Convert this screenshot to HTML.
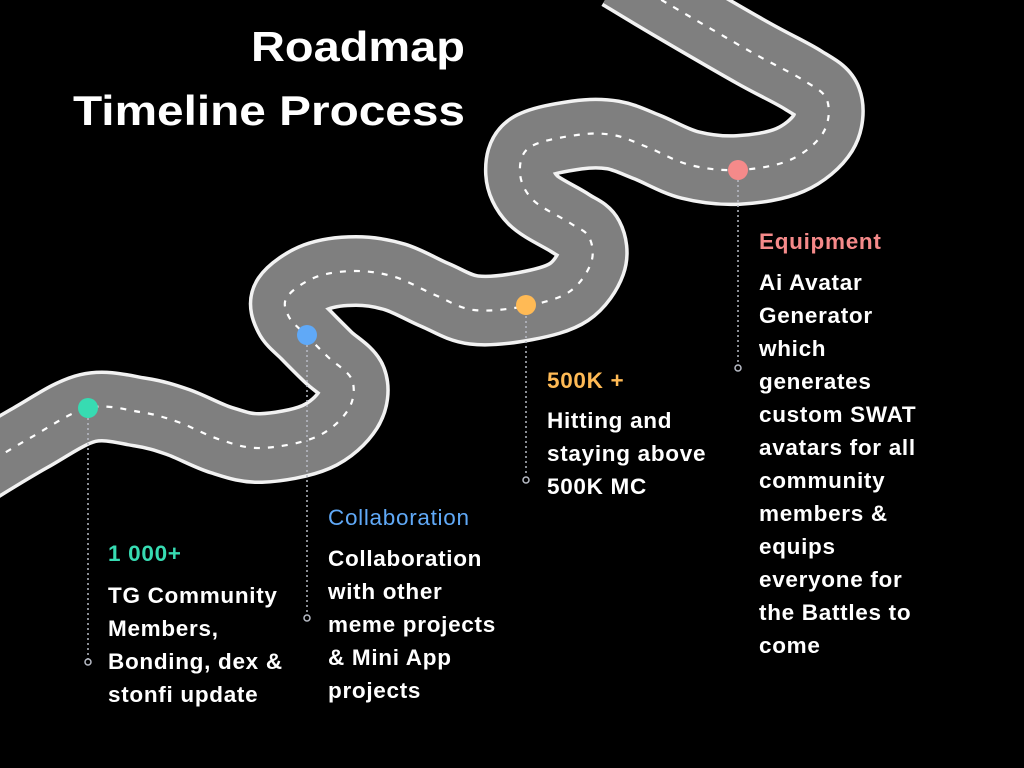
<!DOCTYPE html>
<html><head><meta charset="utf-8"><style>
html,body{margin:0;padding:0;background:#000;}
svg{display:block;}
text{font-family:"Liberation Sans",sans-serif;font-weight:bold;}
</style></head><body>
<svg width="1024" height="768" viewBox="0 0 1024 768" xmlns="http://www.w3.org/2000/svg">
<rect width="1024" height="768" fill="#000"/>
<defs>
<path id="road" d="M -30 474 C -20 468, 10.3 449, 30 438 C 49.7 427, 69.7 412.3, 88 408 C 106.3 403.7, 125 409.7, 140 412 C 155 414.3, 164.5 417.3, 178 422 C 191.5 426.7, 207.2 435.7, 221 440 C 234.8 444.3, 245.2 448.5, 261 448 C 276.8 447.5, 301.5 443.3, 316 437 C 330.5 430.7, 342 419.5, 348 410 C 354 400.5, 355.3 388.8, 352 380 C 348.7 371.2, 335.7 364.5, 328 357 C 320.3 349.5, 312.5 341.7, 306 335 C 299.5 328.3, 292.2 323.3, 289 317 C 285.8 310.7, 282.5 303.7, 287 297 C 291.5 290.3, 304.5 281.3, 316 277 C 327.5 272.7, 342.8 271, 356 271 C 369.2 271, 381.8 273, 395 277 C 408.2 281, 421.8 289.5, 435 295 C 448.2 300.5, 458.8 308.2, 474 310 C 489.2 311.8, 510.2 309, 526 306 C 541.8 303, 558.2 299.2, 569 292 C 579.8 284.8, 587.7 272.2, 591 263 C 594.3 253.8, 592.5 243.7, 589 237 C 585.5 230.3, 579.3 229.2, 570 223 C 560.7 216.8, 541.3 208.3, 533 200 C 524.7 191.7, 520.5 181.8, 520 173 C 519.5 164.2, 520.5 153.3, 530 147 C 539.5 140.7, 563.2 137, 577 135 C 590.8 133, 601.3 133, 613 135 C 624.7 137, 634.2 142, 647 147 C 659.8 152, 674.8 161.2, 690 165 C 705.2 168.8, 721.3 170.8, 738 170 C 754.7 169.2, 775.8 166.2, 790 160 C 804.2 153.8, 816.8 143, 823 133 C 829.2 123, 830.3 108.8, 827 100 C 823.7 91.2, 815.3 87.8, 803 80 C 790.7 72.2, 775.2 65.5, 753 53 C 730.8 40.5, 692.2 18, 670 5 C 647.8 -8, 628.3 -20, 620 -25" fill="none"/>
</defs>
<use href="#road" stroke="#f2f2f2" stroke-width="72" stroke-linejoin="round" fill="none"/>
<use href="#road" stroke="#7f7f7f" stroke-width="65" stroke-linejoin="round" fill="none"/>
<use href="#road" stroke="#ffffff" stroke-width="2.2" stroke-dasharray="6 8" fill="none"/>

<g stroke="#b8bcc6" stroke-width="1.5" stroke-dasharray="2 3" fill="none">
<line x1="88" y1="418" x2="88" y2="659"/>
<line x1="307" y1="345" x2="307" y2="615"/>
<line x1="526" y1="316" x2="526" y2="476"/>
<line x1="738" y1="180" x2="738" y2="365"/>
</g>
<g stroke="#b8bcc6" stroke-width="1.5" fill="#000">
<circle cx="88" cy="662" r="3"/>
<circle cx="307" cy="618" r="3"/>
<circle cx="526" cy="480" r="3"/>
<circle cx="738" cy="368" r="3"/>
</g>
<circle cx="88" cy="408" r="10" fill="#37dbb2"/>
<circle cx="307" cy="335" r="10" fill="#60a9f7"/>
<circle cx="526" cy="305" r="10" fill="#ffba55"/>
<circle cx="738" cy="170" r="10" fill="#f58a8a"/>

<text x="465" y="61" font-size="42" fill="#fff" text-anchor="end" textLength="214" lengthAdjust="spacingAndGlyphs">Roadmap</text>
<text x="73" y="125" font-size="42" fill="#fff" textLength="392" lengthAdjust="spacingAndGlyphs">Timeline Process</text>

<g font-size="22.5" fill="#fff" letter-spacing="0.7">
<text x="108" y="561" fill="#37dbb2">1 000+</text>
<text x="108" y="603">TG Community</text>
<text x="108" y="636">Members,</text>
<text x="108" y="669">Bonding, dex &amp;</text>
<text x="108" y="702">stonfi update</text>

<text x="328" y="525" fill="#60a9f7" style="font-weight:normal">Collaboration</text>
<text x="328" y="566">Collaboration</text>
<text x="328" y="599">with other</text>
<text x="328" y="632">meme projects</text>
<text x="328" y="665">&amp; Mini App</text>
<text x="328" y="698">projects</text>

<text x="547" y="388" fill="#ffba55">500K +</text>
<text x="547" y="428">Hitting and</text>
<text x="547" y="461">staying above</text>
<text x="547" y="494">500K MC</text>

<text x="759" y="249" fill="#f58a8a">Equipment</text>
<text x="759" y="290">Ai Avatar</text>
<text x="759" y="323">Generator</text>
<text x="759" y="356">which</text>
<text x="759" y="389">generates</text>
<text x="759" y="422">custom SWAT</text>
<text x="759" y="455">avatars for all</text>
<text x="759" y="488">community</text>
<text x="759" y="521">members &amp;</text>
<text x="759" y="554">equips</text>
<text x="759" y="587">everyone for</text>
<text x="759" y="620">the Battles to</text>
<text x="759" y="653">come</text>
</g>
</svg>
</body></html>
